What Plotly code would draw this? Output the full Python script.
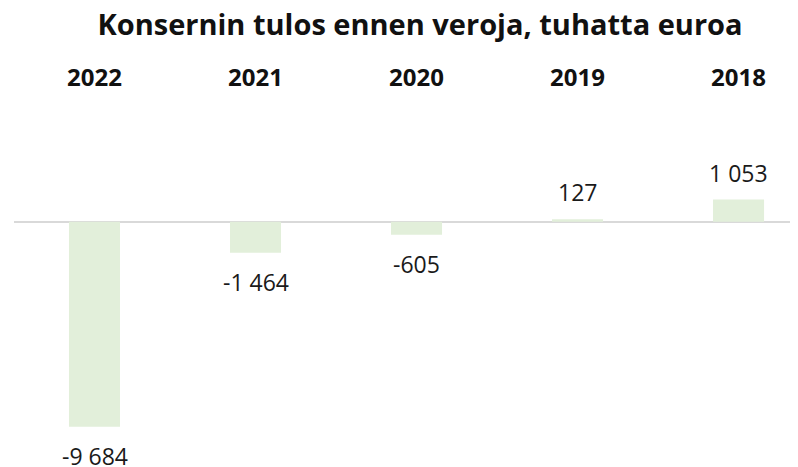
import plotly.graph_objects as go

categories = ["2022", "2021", "2020", "2019", "2018"]
values = [-9684, -1464, -605, 127, 1053]
title_text = "Konsernin tulos ennen veroja, tuhatta euroa"

def fmt(v):
    return f"{v:,}".replace(",", " ")

fig = go.Figure()
fig.add_trace(go.Bar(
    x=categories, y=values,
    marker=dict(color="#E2EFDA", line=dict(width=0)),
    width=0.317,
    hoverinfo="skip",
))

for i, (c, v) in enumerate(zip(categories, values)):
    fig.add_annotation(
        x=i, y=v, xref="x", yref="y", text=fmt(v), showarrow=False,
        yanchor="middle", xanchor="center",
        yshift=27 if v >= 0 else -29.5,
        font=dict(family="Open Sans", size=23, color="#1a1a1a"),
    )

fig.update_layout(
    width=798, height=467,
    margin=dict(l=6, r=0, t=84, b=0, autoexpand=False),
    paper_bgcolor="white", plot_bgcolor="white",
    showlegend=False,
    title=dict(
        text="<b>" + title_text + "</b>",
        x=412 / 798, xref="container", xanchor="center",
        y=1 - 17 / 467, yref="container", yanchor="middle",
        font=dict(family="Open Sans", size=29, color="#111111"),
    ),
    font=dict(family="Open Sans"),
)
fig.update_xaxes(
    side="top", type="category", range=[-0.5, 4.419], automargin=False,
    showline=False, showgrid=False, ticks="", zeroline=False,
    tickfont=dict(family="Open Sans", size=24, color="#111111", weight="bold"),
)
fig.update_yaxes(
    range=[-11958, 6132], showgrid=False, showticklabels=False, ticks="",
    automargin=False,
    showline=False, zeroline=True, zerolinecolor="#d9d9d9", zerolinewidth=2,
)

fig.write_html("out.html")
